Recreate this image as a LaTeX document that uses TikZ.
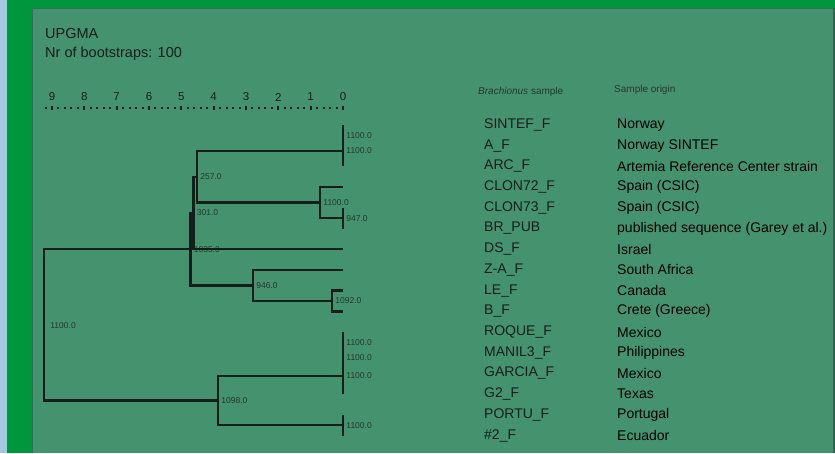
\documentclass[tikz,border=0pt]{standalone}
\usepackage{fontspec}
\setmainfont{Liberation Sans}
\usepackage{tikz}
\usetikzlibrary{positioning}
\definecolor{panelgreen}{RGB}{69,146,110}
\definecolor{framegreen}{RGB}{0,150,62}
\definecolor{edgeblue}{RGB}{165,200,226}
\definecolor{inkdark}{RGB}{22,30,26}
\definecolor{labelgrey}{RGB}{40,55,46}

\begin{document}
\begin{tikzpicture}[x=1pt, y=-1pt,
  branch/.style={draw=inkdark, line width=2.5pt},
  junction/.style={circle, fill=inkdark, inner sep=0pt, minimum size=2pt},
  boot/.style={inner sep=0pt, label distance=2pt, font=\fontsize{8.5}{9}\selectfont, text=labelgrey},
  sample/.style={anchor=west, inner sep=0pt, font=\fontsize{14}{16}\selectfont, text=inkdark},
  origin/.style={anchor=west, inner sep=0pt, font=\fontsize{14}{16}\selectfont, text=black},
  header/.style={anchor=west, inner sep=0pt, font=\fontsize{10}{12}\selectfont, text=labelgrey},
  axnum/.style={inner sep=0pt, font=\fontsize{11.5}{12}\selectfont, text=inkdark},
  title/.style={anchor=west, inner sep=0pt, font=\fontsize{14.5}{16}\selectfont, text=inkdark}
]
\useasboundingbox (0,0) rectangle (835,453);
\fill[edgeblue] (0,0) rectangle (835,453);
\fill[framegreen] (7,0) rectangle (835,453);
\fill[panelgreen] (32,8) rectangle (835,453);
\draw[panelgreen!75!black, line width=0.8pt] (32,453) |- (835,8);
\fill[panelgreen!70!black] (832.5,8) rectangle (835,453);

\node[title] (method) at (45,34) {UPGMA};
\node[title] (boots) at (45,54) {Nr of bootstraps: 100};

\foreach \k in {0,...,9} {
  \node[axnum] (ax\k) at ({343-32.33*\k}, 97) {\k};
  \fill[inkdark] ({343-32.33*\k-1}, 105.5) rectangle +(2,4);
}
\foreach \d in {0,...,46}
  \fill[inkdark] ({343-6.466*\d-1}, 107) rectangle +(2,2);

\node[header] (sampleh) at (478,92) {\textit{Brachionus} sample};
\node[header] (originh) at (614,90) {Sample origin};

\foreach \name/\place [count=\i] in {
  SINTEF\_F/Norway,
  A\_F/Norway SINTEF,
  ARC\_F/Artemia Reference Center strain,
  CLON72\_F/Spain (CSIC),
  CLON73\_F/Spain (CSIC),
  BR\_PUB/published sequence (Garey et al.),
  DS\_F/Israel,
  Z-A\_F/South Africa,
  LE\_F/Canada,
  B\_F/Crete (Greece),
  ROQUE\_F/Mexico,
  MANIL3\_F/Philippines,
  GARCIA\_F/Mexico,
  G2\_F/Texas,
  PORTU\_F/Portugal,
  \#2\_F/Ecuador} {
  \coordinate (l\i) at (343, {125+20.7*(\i-1)});
  \node[sample] (s\i) at (484, {125+20.7*(\i-1)}) {\name};
  \node[origin] (o\i) at (617, {125+20.7*(\i-1)}) {\place};
}

\node[junction, label={[boot]right:1100.0}] (nSA) at (343,135.4) {};
\node[junction, label={[boot]right:1100.0}] (nSAR) at (343,150.9) {};
\node[junction, label={[boot]right:947.0}] (nCC) at (343,218.2) {};
\node[junction, label={[boot]right:1100.0}] (nCL) at (320,202.6) {};
\node[junction, label={[boot]right:257.0}] (n257) at (197,176.8) {};
\node[junction, label={[boot]right:301.0}] (n301) at (193.5,212.9) {};
\node[junction, label={[boot]right:1092.0}] (nLB) at (332,301) {};
\node[junction, label={[boot]right:946.0}] (n946) at (253,285.4) {};
\node[junction, label={[boot]right:1035.0}] (n1035) at (190.5,249.2) {};
\node[junction, label={[boot]right:1100.0}] (nRM) at (343,342.3) {};
\node[junction, label={[boot]right:1100.0}] (nRMG) at (343,357.9) {};
\node[junction, label={[boot]right:1100.0}] (nRMGG) at (343,376) {};
\node[junction, label={[boot]right:1100.0}] (nPE) at (343,425.2) {};
\node[junction, label={[boot]right:1098.0}] (n1098) at (218,400.6) {};
\node[junction, label={[boot, label distance=5pt]right:1100.0}] (nroot) at (44,325.6) {};

\draw[branch] (nSA.center) |- (l1) (nSA.center) |- (l2);
\draw[branch] (nSAR.center) |- (nSA.center) (nSAR.center) |- (l3);
\draw[branch] (nCC.center) |- (l5) (nCC.center) |- (l6);
\draw[branch] (nCL.center) |- (l4) (nCL.center) |- (nCC.center);
\draw[branch] (n257.center) |- (nSAR.center) (n257.center) |- (nCL.center);
\draw[branch] (n301.center) |- (n257.center) (n301.center) |- (l7);
\draw[branch] (nLB.center) |- (l9) (nLB.center) |- (l10);
\draw[branch] (n946.center) |- (l8) (n946.center) |- (nLB.center);
\draw[branch] (n1035.center) |- (n301.center) (n1035.center) |- (n946.center);
\draw[branch] (nRM.center) |- (l11) (nRM.center) |- (l12);
\draw[branch] (nRMG.center) |- (nRM.center) (nRMG.center) |- (l13);
\draw[branch] (nRMGG.center) |- (nRMG.center) (nRMGG.center) |- (l14);
\draw[branch] (nPE.center) |- (l15) (nPE.center) |- (l16);
\draw[branch] (n1098.center) |- (nRMGG.center) (n1098.center) |- (nPE.center);
\draw[branch] (nroot.center) |- (n1035.center) (nroot.center) |- (n1098.center);
\end{tikzpicture}
\end{document}
